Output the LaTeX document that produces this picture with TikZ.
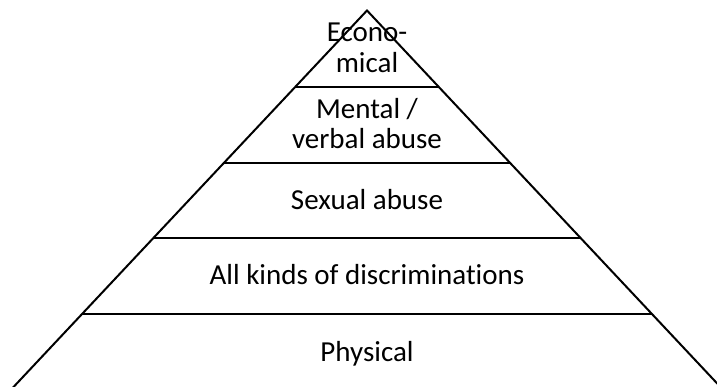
\documentclass[tikz,border=0pt]{standalone}
\usepackage{fontspec}
\setmainfont[Ligatures=NoCommon]{Carlito}
\begin{document}
\begin{tikzpicture}[x=1pt,y=-1pt,
  edge/.style={line width=2pt,line cap=butt},
  lbl/.style={anchor=base,inner sep=0pt,font=\fontsize{29}{31}\selectfont}]
\useasboundingbox (0,0) rectangle (717,387);
\clip (0,0) rectangle (717,387);
\coordinate (apex) at (367,10.5);
\coordinate (bl) at (6,395);
\coordinate (br) at (728,395);
\draw[edge,line join=miter] (bl) -- (apex) -- (br);
\foreach \y/\n in {87/a,163/b,238/c,314/d}{
  \pgfmathsetmacro{\dx}{(\y-10.5)*0.9385}
  \coordinate (\n l) at (367-\dx,\y);
  \coordinate (\n r) at (367+\dx,\y);
  \draw[edge] (\n l) -- (\n r);
}
\node[lbl] (t1) at (367,42) {Econo-};
\node[lbl] (t2) at (367,73) {mical};
\node[lbl] (t3) at (367,119) {Mental /};
\node[lbl] (t4) at (367,149) {verbal abuse};
\node[lbl] (t5) at (367,210) {Sexual abuse};
\node[lbl] (t6) at (367,284) {All kinds of discriminations};
\node[lbl] (t7) at (367,361) {Physical};
\end{tikzpicture}
\end{document}
